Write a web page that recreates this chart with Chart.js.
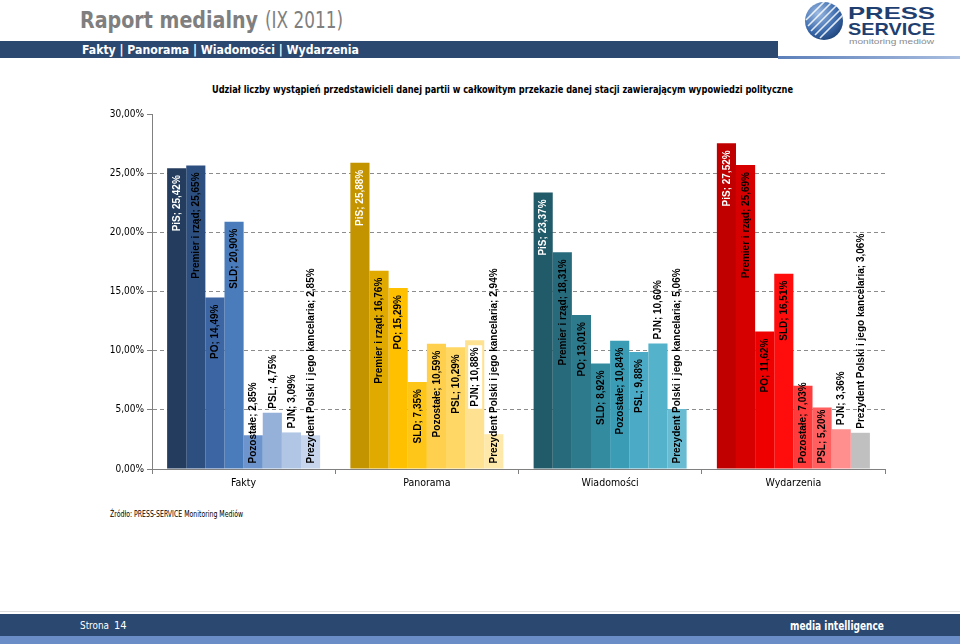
<!DOCTYPE html>
<html>
<head>
<meta charset="utf-8">
<script src="https://cdn.jsdelivr.net/npm/chart.js@4.4.0/dist/chart.umd.min.js"></script>
<style>
  body { margin: 0; width: 960px; height: 644px; position: relative; background: #fff; overflow: hidden; }
  #deco { position: absolute; left: 0; top: 0; }
  #wrap { position: absolute; left: 40px; top: 100px; width: 860px; height: 405px; }
</style>
</head>
<body>
<svg id="deco" width="960" height="644" xmlns="http://www.w3.org/2000/svg">
  <defs>
    <radialGradient id="ball" cx="0.35" cy="0.3" r="0.8">
      <stop offset="0" stop-color="#9DBBE3"/>
      <stop offset="0.6" stop-color="#3D6CAE"/>
      <stop offset="1" stop-color="#1C3F73"/>
    </radialGradient>
    <linearGradient id="line" x1="0" x2="1">
      <stop offset="0" stop-color="#5C7FBA"/>
      <stop offset="1" stop-color="#A9BEE0"/>
    </linearGradient>
    <clipPath id="ballClip"><circle cx="824" cy="21" r="19"/></clipPath>
  </defs>
  <!-- header -->
  <text x="80" y="28" font-family="DejaVu Sans Condensed, DejaVu Sans, sans-serif" font-weight="bold" font-size="23" fill="#7F7F7F" textLength="178" lengthAdjust="spacingAndGlyphs">Raport medialny</text>
  <text x="265" y="28" font-family="DejaVu Sans Condensed, DejaVu Sans, sans-serif" font-size="23" fill="#7F7F7F" textLength="78" lengthAdjust="spacingAndGlyphs">(IX 2011)</text>
  <rect x="0" y="41" width="778" height="17" fill="#2A4870"/>
  <rect x="778" y="56" width="182" height="3" fill="url(#line)"/>
  <text x="82" y="53.5" font-family="DejaVu Sans Condensed, DejaVu Sans, sans-serif" font-weight="bold" font-size="11.5" fill="#fff" textLength="277" lengthAdjust="spacingAndGlyphs">Fakty  |  Panorama  |  Wiadomości  |  Wydarzenia</text>
  <!-- logo -->
  <circle cx="824" cy="21" r="19" fill="url(#ball)"/>
  <g clip-path="url(#ballClip)" stroke="#fff" stroke-width="1.6" opacity="0.85">
    <line x1="806" y1="20" x2="826" y2="0"/>
    <line x1="808" y1="26" x2="832" y2="2"/>
    <line x1="811" y1="31" x2="837" y2="5"/>
    <line x1="815" y1="35" x2="841" y2="9"/>
    <line x1="820" y1="38" x2="844" y2="14"/>
  </g>
  <text x="848" y="19" font-family="Liberation Sans, Arial, sans-serif" font-weight="bold" font-size="17" fill="#1F3F70" textLength="87" lengthAdjust="spacingAndGlyphs">PRESS</text>
  <text x="848" y="35" font-family="Liberation Sans, Arial, sans-serif" font-weight="bold" font-size="17" fill="#1F3F70" textLength="87" lengthAdjust="spacingAndGlyphs">SERVICE</text>
  <text x="849" y="44" font-family="Liberation Sans, Arial, sans-serif" font-size="7" fill="#8A8A8A" textLength="85" lengthAdjust="spacingAndGlyphs">monitoring mediów</text>
  <!-- chart title and source -->
  <text x="212" y="93" font-family="DejaVu Sans Condensed, DejaVu Sans, sans-serif" font-weight="bold" font-size="10.5" fill="#000" textLength="581" lengthAdjust="spacingAndGlyphs">Udział liczby wystąpień przedstawicieli danej partii w całkowitym przekazie danej stacji zawierającym wypowiedzi polityczne</text>
  <text x="110" y="517" font-family="DejaVu Sans Condensed, DejaVu Sans, sans-serif" font-size="8" fill="#000" textLength="133" lengthAdjust="spacingAndGlyphs">Źródło: PRESS-SERVICE Monitoring Mediów</text>
  <!-- footer -->
  <rect x="0" y="611" width="960" height="1" fill="#DDDDDD"/>
  <rect x="0" y="614" width="960" height="22" fill="#2A4870"/>
  <rect x="0" y="636" width="960" height="8" fill="#6A8DC7"/>
  <text x="80" y="629" font-family="DejaVu Sans Condensed, DejaVu Sans, sans-serif" font-size="11" fill="#fff" textLength="29" lengthAdjust="spacingAndGlyphs">Strona</text>
  <text x="114" y="629" font-family="DejaVu Sans Condensed, DejaVu Sans, sans-serif" font-size="11" fill="#fff">14</text>
  <text x="790" y="630" font-family="DejaVu Sans Condensed, DejaVu Sans, sans-serif" font-weight="bold" font-size="13" fill="#fff" textLength="94" lengthAdjust="spacingAndGlyphs">media intelligence</text>
</svg>

<div id="wrap"><canvas id="chart" width="860" height="405"></canvas></div>

<script>
const stations = ['Fakty', 'Panorama', 'Wiadomości', 'Wydarzenia'];
const parties = ['PiS', 'Premier i rząd', 'PO', 'SLD', 'Pozostałe', 'PSL', 'PJN', 'Prezydent Polski i jego kancelaria'];
const fakty = [25.42, 25.65, 14.49, 20.90, 2.85, 4.75, 3.09, 2.85];
const panorama = [25.88, 16.76, 15.29, 7.35, 10.59, 10.29, 10.88, 2.94];
const wiadomosci = [23.37, 18.31, 13.01, 8.92, 10.84, 9.88, 10.60, 5.06];
const wydarzenia = [27.52, 25.69, 11.62, 16.51, 7.03, 5.20, 3.36, 3.06];
const yTicks = [0, 5, 10, 15, 20, 25, 30];

// one colour ramp per station
const stationColors = [
    ['#243D5E', '#2C4F7F', '#3B65A3', '#4A7CBB', '#6D94CC', '#95B1DA', '#B0C6E4', '#C7D6EC'],
    ['#C39300', '#E0AA00', '#FFC000', '#FFC61A', '#FFD04D', '#FFD764', '#FFE291', '#FFE9AA'],
    ['#215A69', '#276A7B', '#2D7A8D', '#338BA0', '#3A9CB5', '#4BAAC5', '#55B2CB', '#69BBD2'],
    ['#C00000', '#D60000', '#EE0000', '#FF0C0C', '#FF3B3B', '#FF5F5F', '#FF8E8E', '#C0C0C0']
];

// where each label sits: in = inside top, out = above bar, base = from the bottom
const labelModes = [
    ['in', 'in', 'in', 'in', 'base', 'out', 'out', 'base'],
    ['in', 'in', 'in', 'in', 'in', 'in', 'box', 'base'],
    ['in', 'in', 'in', 'in', 'in', 'in', 'out', 'base'],
    ['in', 'in', 'in', 'in', 'base', 'base', 'out', 'out']
];

const series = [fakty, panorama, wiadomosci, wydarzenia];

const datasets = parties.map((p, i) => ({
    label: p,
    data: series.map(s => s[i]),
    backgroundColor: stationColors.map(c => c[i]),
    borderWidth: 0,
    barPercentage: 1,
    categoryPercentage: 0.835
}));

const fmt = v => v.toFixed(2).replace('.', ',') + '%';

const barLabels = {
    id: 'barLabels',
    afterDatasetsDraw(chart) {
        const ctx = chart.ctx;
        ctx.save();
        ctx.font = 'bold 10px "Liberation Sans", Arial, sans-serif';
        chart.data.datasets.forEach((ds, i) => {
            chart.getDatasetMeta(i).data.forEach((bar, j) => {
                const text = parties[i] + '; ' + fmt(ds.data[j]);
                const w = ctx.measureText(text).width;
                const mode = labelModes[j][i];
                let start;
                if (mode === 'out') start = bar.y - 4;
                else if (mode === 'base') start = bar.base - 5;
                else start = bar.y + 7 + w;
                ctx.save();
                ctx.translate(bar.x + 0.5, start);
                ctx.rotate(-Math.PI / 2);
                if (mode === 'box') {
                    ctx.fillStyle = '#fff';
                    ctx.fillRect(-2, -7, w + 4, 14);
                }
                ctx.fillStyle = i === 0 ? '#fff' : '#000';
                ctx.textAlign = 'left';
                ctx.textBaseline = 'middle';
                ctx.fillText(text, 0, 0);
                ctx.restore();
            });
        });
        ctx.restore();
    }
};

const tickFont = { family: '"DejaVu Sans Condensed", "DejaVu Sans", sans-serif', size: 10 };

new Chart(document.getElementById('chart'), {
    type: 'bar',
    data: { labels: stations, datasets: datasets },
    options: {
        responsive: false,
        animation: false,
        devicePixelRatio: 1,
        layout: { padding: { top: 14, right: 15, left: 0, bottom: 0 } },
        plugins: { legend: { display: false }, tooltip: { enabled: false } },
        scales: {
            x: {
                grid: { offset: true, drawOnChartArea: false, tickLength: 5, color: '#808080' },
                border: { color: '#808080' },
                ticks: { font: { ...tickFont, size: 10.5 }, color: '#000', padding: 3 },
                afterFit(s) { s.height = 36; }
            },
            y: {
                min: 0,
                max: 30,
                afterBuildTicks(s) { s.ticks = yTicks.map(v => ({ value: v })); },
                ticks: { font: tickFont, color: '#000', padding: 3, callback: v => fmt(v) },
                grid: {
                    color: c => (c.tick.value === 0 || c.tick.value === 30) ? 'rgba(0,0,0,0)' : '#8C8C8C',
                    tickLength: 5,
                    tickColor: '#808080',
                    tickBorderDash: []
                },
                border: { color: '#808080', dash: [4, 3] },
                afterFit(s) { s.width = 112; }
            }
        }
    },
    plugins: [barLabels]
});
</script>
</body>
</html>
